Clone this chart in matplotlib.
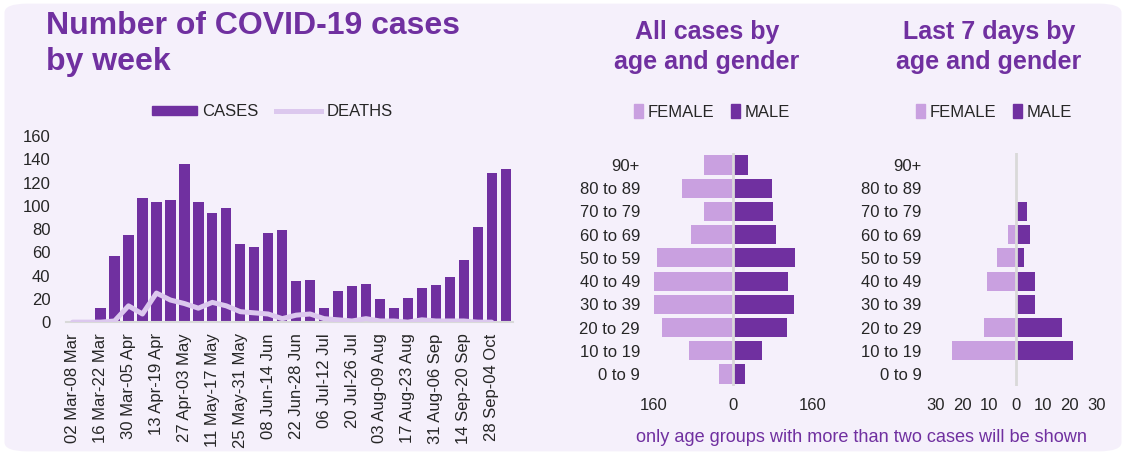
import numpy as np
import matplotlib
matplotlib.use('Agg')
import matplotlib.pyplot as plt
from matplotlib.patches import FancyBboxPatch, Patch
from matplotlib.lines import Line2D

plt.rcParams['font.family'] = ['Liberation Sans', 'DejaVu Sans']

# weekly data, 02 Mar .. 05 Oct
week_labels = ['02 Mar-08 Mar', '16 Mar-22 Mar', '30 Mar-05 Apr', '13 Apr-19 Apr',
               '27 Apr-03 May', '11 May-17 May', '25 May-31 May', '08 Jun-14 Jun',
               '22 Jun-28 Jun', '06 Jul-12 Jul', '20 Jul-26 Jul', '03 Aug-09 Aug',
               '17 Aug-23 Aug', '31 Aug-06 Sep', '14 Sep-20 Sep', '28 Sep-04 Oct']
cases = [0, 0, 12, 57, 75, 107, 103, 105, 136, 103, 94, 98, 67, 65, 77, 79,
         35, 36, 12, 27, 31, 33, 20, 12, 21, 29, 32, 39, 53, 82, 128, 132]
deaths = [0, 0, 0, 1, 14, 7, 25, 19, 16, 12, 17, 14, 9, 8, 7, 3,
          6, 7, 3, 2, 1, 3, 1, 1, 0, 2, 1, 1, 1, 0, 0]

age_groups = ['90+', '80 to 89', '70 to 79', '60 to 69', '50 to 59',
              '40 to 49', '30 to 39', '20 to 29', '10 to 19', '0 to 9']
all_female = [59, 103, 59, 86, 154, 160, 160, 143, 89, 30]
all_male = [30, 77, 80, 85, 123, 109, 122, 107, 58, 23]
last7_female = [0, 0, 0, 3, 7, 11, 0, 12, 24, 0]
last7_male = [0, 0, 4, 5, 3, 7, 7, 17, 21, 0]

dark = '#7030A0'
light = '#C9A0E0'
death_col = '#DCC8EE'
txt = '#262626'
bg = '#F5F0FB'
fs = 12

fig = plt.figure(figsize=(11.26, 4.55), dpi=100)
fig.patch.set_facecolor('white')
fig.patches.append(FancyBboxPatch((0.004, 0.008), 0.992, 0.984,
                                  boxstyle='round,pad=0,rounding_size=0.02',
                                  transform=fig.transFigure, facecolor=bg,
                                  edgecolor='none', zorder=-10))

# ---- cases by week
ax1 = fig.add_axes([0.0583, 0.292, 0.397, 0.409])
ax1.set_facecolor('none')
x = np.arange(len(cases))
ax1.bar(x, cases, width=0.74, color=dark, zorder=2)
ax1.plot(np.arange(len(deaths)), deaths, color=death_col, lw=3.6,
         solid_capstyle='round', zorder=3)
ax1.set_xlim(-0.5, len(cases) - 0.5)
ax1.set_ylim(0, 160)
ax1.set_yticks(range(0, 161, 20))
ax1.set_xticks(x[::2])
ax1.set_xticklabels(week_labels, rotation=90)
ax1.tick_params(axis='y', length=0, pad=11, labelsize=fs, colors=txt)
ax1.tick_params(axis='x', length=0, pad=8, labelsize=fs, colors=txt)
for s in ['top', 'right', 'left']:
    ax1.spines[s].set_visible(False)
ax1.spines['bottom'].set_color('#D9D9D9')
ax1.spines['bottom'].set_linewidth(1.5)

fig.legend(handles=[Patch(color=dark, label='CASES'),
                    Line2D([], [], color=death_col, lw=3.6, label='DEATHS')],
           loc='center', bbox_to_anchor=(272 / 1126, 1 - 112 / 455), ncol=2,
           frameon=False, fontsize=fs, handlelength=2.7, handleheight=0.5,
           handletextpad=0.3, columnspacing=1.1, labelcolor=txt)


def pyramid(rect, female, male, lim, ticks):
    ax = fig.add_axes(rect)
    ax.set_facecolor('none')
    y = np.arange(len(age_groups))
    ax.barh(y, [-v for v in female], height=0.82, color=light, zorder=2)
    ax.barh(y, male, height=0.82, color=dark, zorder=2)
    ax.axvline(0, color='#D9D9D9', lw=2, zorder=3)
    ax.set_xlim(-lim, lim)
    ax.set_ylim(len(age_groups) - 0.5, -0.5)
    ax.set_yticks(y)
    ax.set_yticklabels(age_groups)
    ax.set_xticks(ticks)
    ax.set_xticklabels([str(abs(t)) for t in ticks])
    ax.tick_params(length=0, labelsize=fs, colors=txt)
    ax.tick_params(axis='y', pad=10)
    ax.tick_params(axis='x', pad=9)
    for s in ax.spines.values():
        s.set_visible(False)
    return ax


pyramid([0.5808, 0.1525, 0.1412, 0.5104], all_female, all_male, 160, [-160, 0, 160])
pyramid([0.831, 0.1525, 0.143, 0.5104], last7_female, last7_male, 30,
        [-30, -20, -10, 0, 10, 20, 30])

for cx in (712, 994):
    fig.legend(handles=[Patch(color=light, label='FEMALE'),
                        Patch(color=dark, label='MALE')],
               loc='center', bbox_to_anchor=(cx / 1126, 1 - 112 / 455), ncol=2,
               frameon=False, fontsize=fs, handlelength=0.55, handleheight=0.9,
               handletextpad=0.25, columnspacing=1.0, labelcolor=txt)

# ---- titles
fig.text(46 / 1126, 1 - 11 / 455, 'Number of COVID-19 cases\nby week', ha='left',
         va='top', fontsize=23, fontweight='bold', color=dark, linespacing=1.25)
fig.text(707 / 1126, 1 - 20 / 455, 'All cases by\nage and gender', ha='center',
         va='top', fontsize=18, fontweight='bold', color=dark, linespacing=1.3)
fig.text(989 / 1126, 1 - 20 / 455, 'Last 7 days by\nage and gender', ha='center',
         va='top', fontsize=18, fontweight='bold', color=dark, linespacing=1.3)
fig.text(862 / 1126, 1 - 438 / 455,
         'only age groups with more than two cases will be shown',
         ha='center', va='center', fontsize=13.1, color=dark)

fig.savefig('out.png', dpi=100, facecolor='white')
